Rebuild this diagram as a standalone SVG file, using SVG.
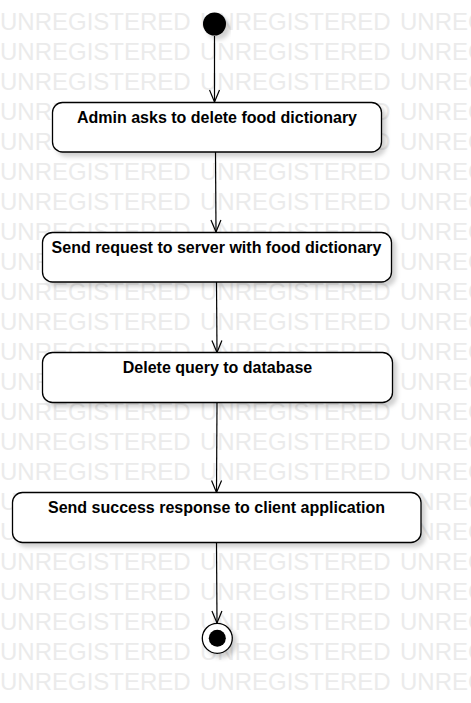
<svg xmlns="http://www.w3.org/2000/svg" width="471" height="703" viewBox="0 0 471 703">
<style>
.wm{font-family:"Liberation Sans",Arial,sans-serif;font-size:24px;fill:#ebebeb}
.box{fill:#fff;stroke:#000;stroke-width:1.3}
.lbl{font-family:"Liberation Sans",Arial,sans-serif;font-size:16px;font-weight:bold;fill:#000;text-anchor:middle}
.edge{stroke:#000;stroke-width:1.2;fill:none}
</style>
<defs>
<filter id="sh" x="-10%" y="-20%" width="130%" height="160%">
<feDropShadow dx="4" dy="4" stdDeviation="2" flood-color="#000" flood-opacity="0.18"/>
</filter>
<marker id="arr" viewBox="0 0 14 12" refX="13" refY="6" markerWidth="14" markerHeight="12" markerUnits="userSpaceOnUse" orient="auto">
<path d="M1,1 L13,6 L1,11" fill="none" stroke="#000" stroke-width="1.2"/>
</marker>
</defs>
<rect width="471" height="703" fill="#fff"/>
<g id="watermark">
<text class="wm" x="0" y="30">UNREGISTERED</text><text class="wm" x="200" y="30">UNREGISTERED</text><text class="wm" x="400" y="30">UNREGISTERED</text>
<text class="wm" x="0" y="60">UNREGISTERED</text><text class="wm" x="200" y="60">UNREGISTERED</text><text class="wm" x="400" y="60">UNREGISTERED</text>
<text class="wm" x="0" y="90">UNREGISTERED</text><text class="wm" x="200" y="90">UNREGISTERED</text><text class="wm" x="400" y="90">UNREGISTERED</text>
<text class="wm" x="0" y="120">UNREGISTERED</text><text class="wm" x="200" y="120">UNREGISTERED</text><text class="wm" x="400" y="120">UNREGISTERED</text>
<text class="wm" x="0" y="150">UNREGISTERED</text><text class="wm" x="200" y="150">UNREGISTERED</text><text class="wm" x="400" y="150">UNREGISTERED</text>
<text class="wm" x="0" y="180">UNREGISTERED</text><text class="wm" x="200" y="180">UNREGISTERED</text><text class="wm" x="400" y="180">UNREGISTERED</text>
<text class="wm" x="0" y="210">UNREGISTERED</text><text class="wm" x="200" y="210">UNREGISTERED</text><text class="wm" x="400" y="210">UNREGISTERED</text>
<text class="wm" x="0" y="240">UNREGISTERED</text><text class="wm" x="200" y="240">UNREGISTERED</text><text class="wm" x="400" y="240">UNREGISTERED</text>
<text class="wm" x="0" y="270">UNREGISTERED</text><text class="wm" x="200" y="270">UNREGISTERED</text><text class="wm" x="400" y="270">UNREGISTERED</text>
<text class="wm" x="0" y="300">UNREGISTERED</text><text class="wm" x="200" y="300">UNREGISTERED</text><text class="wm" x="400" y="300">UNREGISTERED</text>
<text class="wm" x="0" y="330">UNREGISTERED</text><text class="wm" x="200" y="330">UNREGISTERED</text><text class="wm" x="400" y="330">UNREGISTERED</text>
<text class="wm" x="0" y="360">UNREGISTERED</text><text class="wm" x="200" y="360">UNREGISTERED</text><text class="wm" x="400" y="360">UNREGISTERED</text>
<text class="wm" x="0" y="390">UNREGISTERED</text><text class="wm" x="200" y="390">UNREGISTERED</text><text class="wm" x="400" y="390">UNREGISTERED</text>
<text class="wm" x="0" y="420">UNREGISTERED</text><text class="wm" x="200" y="420">UNREGISTERED</text><text class="wm" x="400" y="420">UNREGISTERED</text>
<text class="wm" x="0" y="450">UNREGISTERED</text><text class="wm" x="200" y="450">UNREGISTERED</text><text class="wm" x="400" y="450">UNREGISTERED</text>
<text class="wm" x="0" y="480">UNREGISTERED</text><text class="wm" x="200" y="480">UNREGISTERED</text><text class="wm" x="400" y="480">UNREGISTERED</text>
<text class="wm" x="0" y="510">UNREGISTERED</text><text class="wm" x="200" y="510">UNREGISTERED</text><text class="wm" x="400" y="510">UNREGISTERED</text>
<text class="wm" x="0" y="540">UNREGISTERED</text><text class="wm" x="200" y="540">UNREGISTERED</text><text class="wm" x="400" y="540">UNREGISTERED</text>
<text class="wm" x="0" y="570">UNREGISTERED</text><text class="wm" x="200" y="570">UNREGISTERED</text><text class="wm" x="400" y="570">UNREGISTERED</text>
<text class="wm" x="0" y="600">UNREGISTERED</text><text class="wm" x="200" y="600">UNREGISTERED</text><text class="wm" x="400" y="600">UNREGISTERED</text>
<text class="wm" x="0" y="630">UNREGISTERED</text><text class="wm" x="200" y="630">UNREGISTERED</text><text class="wm" x="400" y="630">UNREGISTERED</text>
<text class="wm" x="0" y="660">UNREGISTERED</text><text class="wm" x="200" y="660">UNREGISTERED</text><text class="wm" x="400" y="660">UNREGISTERED</text>
<text class="wm" x="0" y="690">UNREGISTERED</text><text class="wm" x="200" y="690">UNREGISTERED</text><text class="wm" x="400" y="690">UNREGISTERED</text>
</g>
<g id="connectors">
<line class="edge" x1="214.5" y1="36" x2="214.5" y2="102" marker-end="url(#arr)"/>
<line class="edge" x1="215.5" y1="152" x2="216" y2="232" marker-end="url(#arr)"/>
<line class="edge" x1="216.5" y1="282" x2="217" y2="352.5" marker-end="url(#arr)"/>
<line class="edge" x1="217" y1="402.5" x2="216.5" y2="492.5" marker-end="url(#arr)"/>
<line class="edge" x1="216.5" y1="542.5" x2="217" y2="623" marker-end="url(#arr)"/>
</g>
<g id="start">
<circle cx="214.5" cy="24" r="11.5" fill="#000" filter="url(#sh)"/>
</g>
<g id="n1">
<rect class="box" x="52.5" y="102.5" width="329" height="49.5" rx="10" filter="url(#sh)"/>
<text class="lbl" x="217" y="122.5">Admin asks to delete food dictionary</text>
</g>
<g id="n2">
<rect class="box" x="42.5" y="232.5" width="349" height="49.5" rx="10" filter="url(#sh)"/>
<text class="lbl" x="216.5" y="253">Send request to server with food dictionary</text>
</g>
<g id="n3">
<rect class="box" x="42.5" y="352.5" width="350" height="50" rx="10" filter="url(#sh)"/>
<text class="lbl" x="217.5" y="372.5">Delete query to database</text>
</g>
<g id="n4">
<rect class="box" x="12.5" y="492.5" width="408.5" height="50" rx="10" filter="url(#sh)"/>
<text class="lbl" x="216.5" y="512.5">Send success response to client application</text>
</g>
<g id="end">
<circle cx="217.3" cy="638.3" r="15" fill="#fff" stroke="#000" stroke-width="1.3" filter="url(#sh)"/>
<circle cx="217.3" cy="638.3" r="8.5" fill="#000"/>
</g>
</svg>
